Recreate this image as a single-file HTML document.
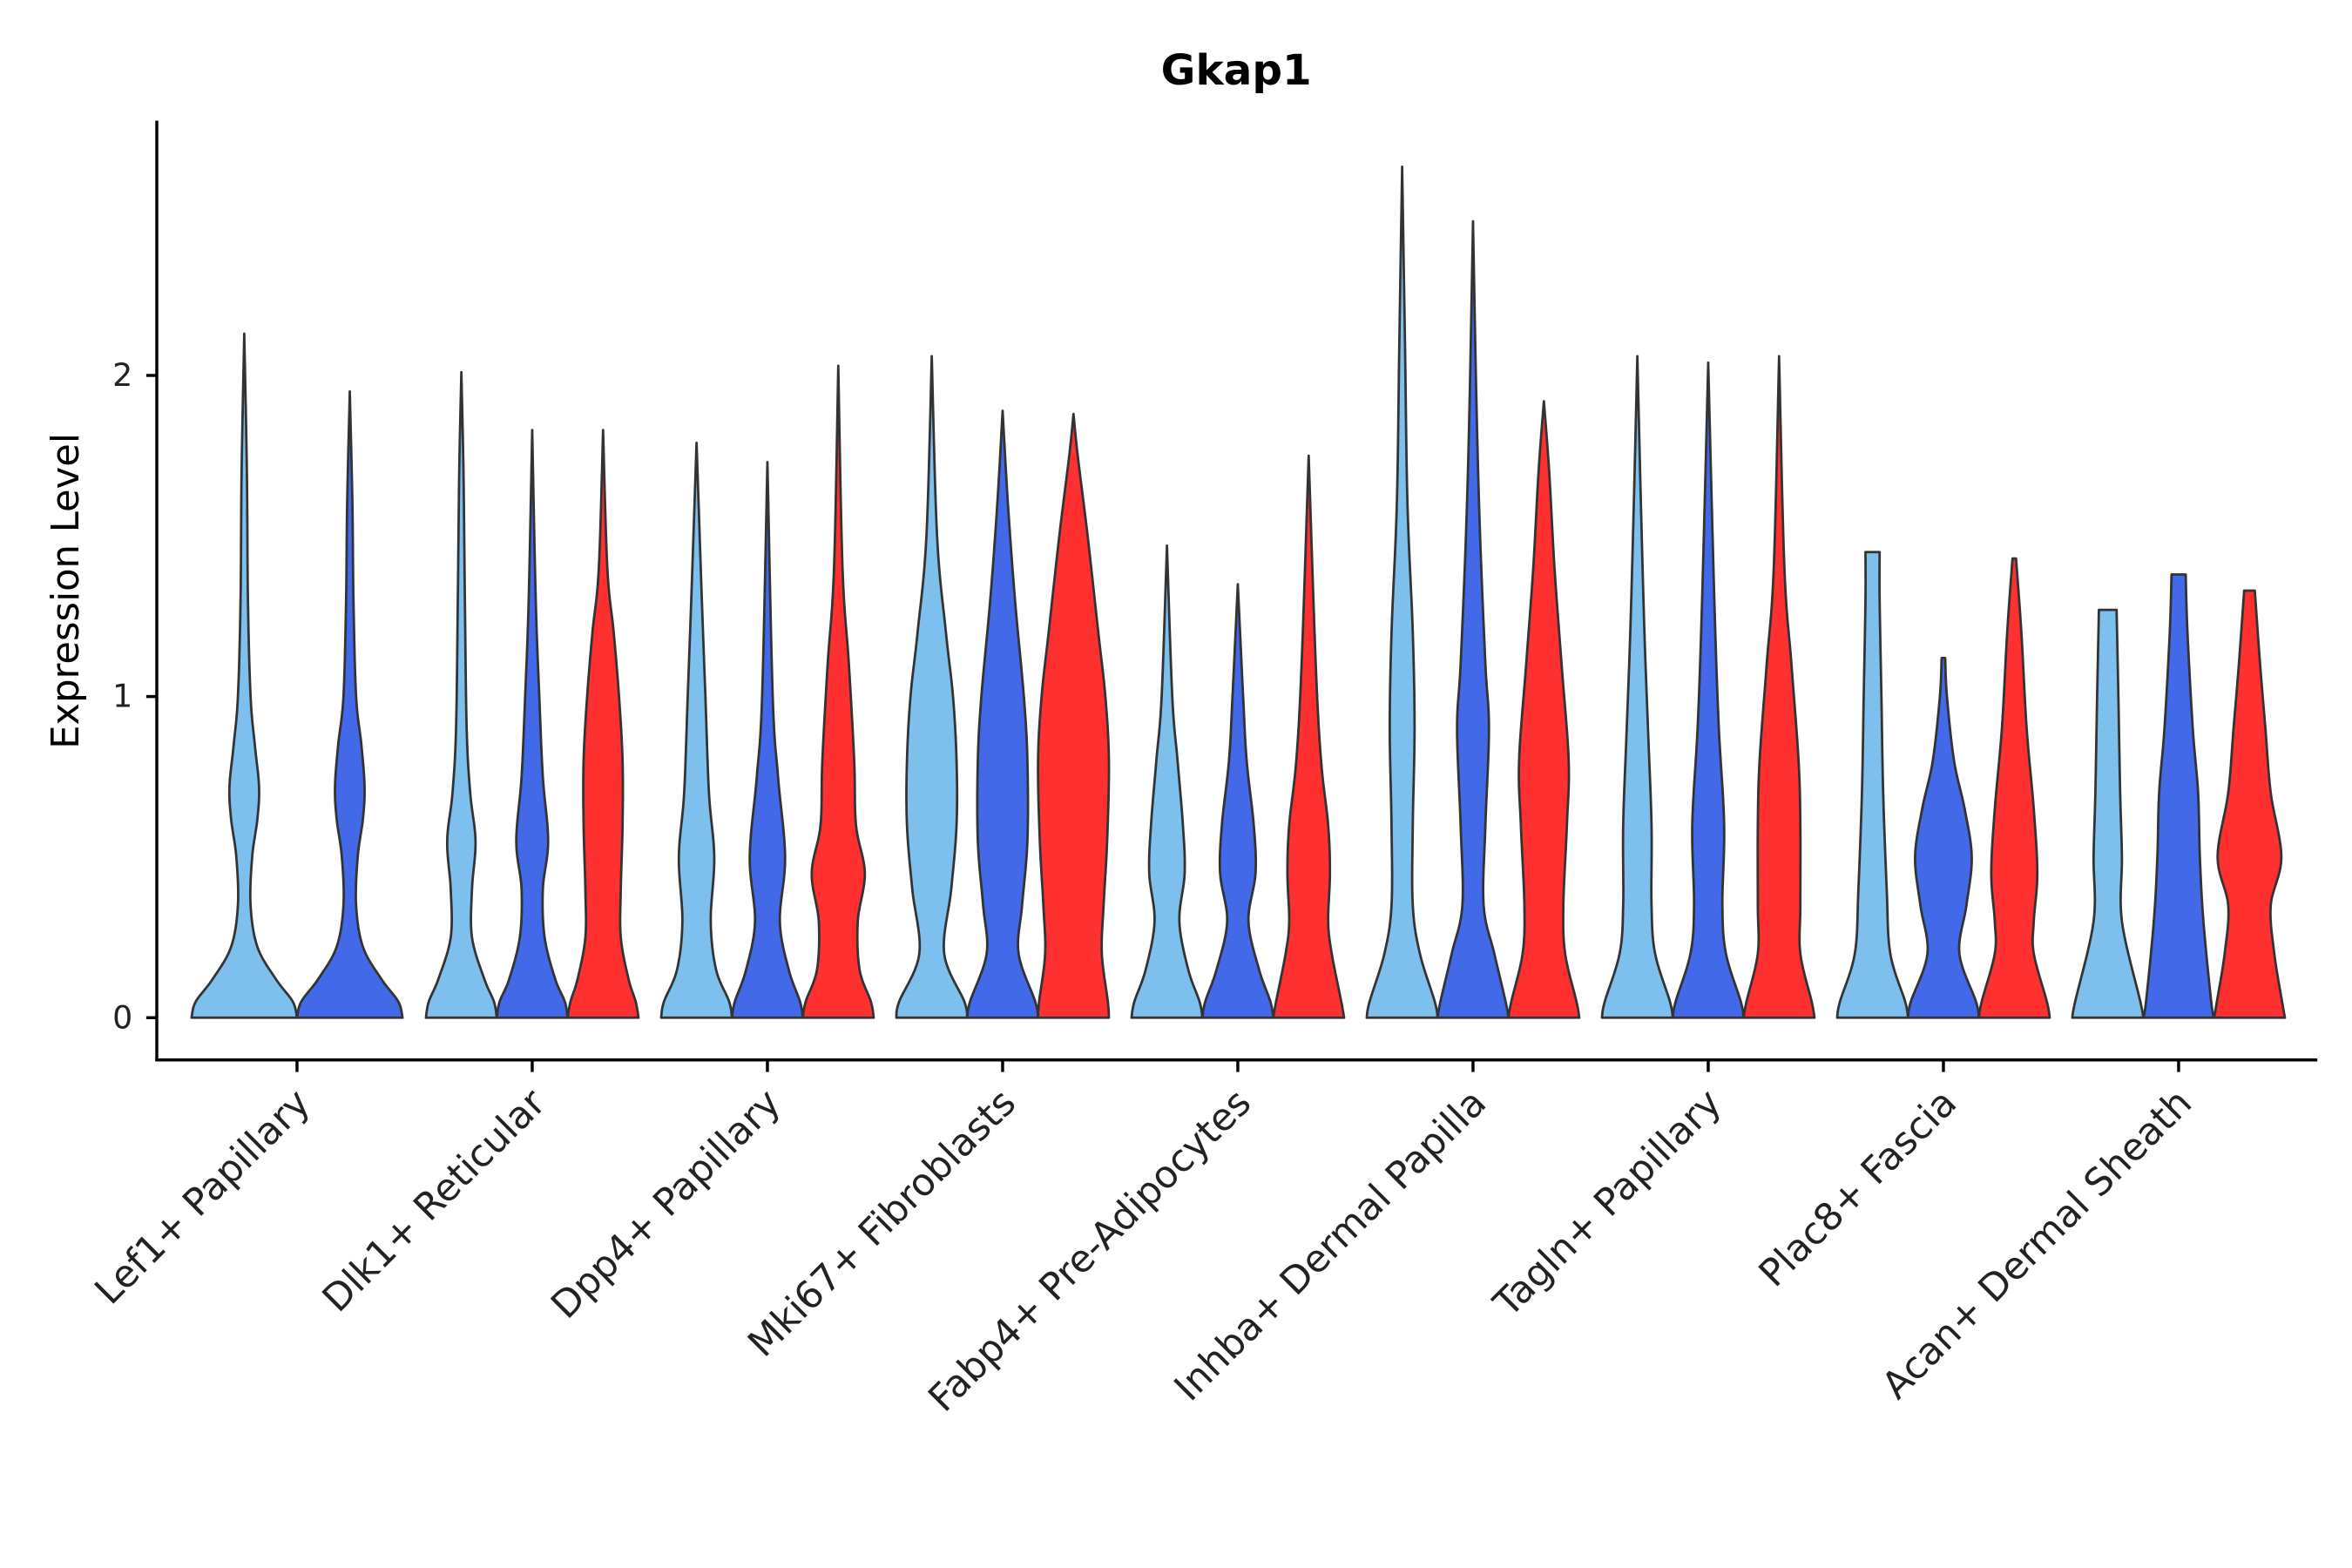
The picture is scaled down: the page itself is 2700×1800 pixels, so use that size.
<!DOCTYPE html>
<html><head><meta charset="utf-8"><style>html,body{margin:0;padding:0;background:#fff}svg{display:block}</style></head>
<body>
<svg id="chart" width="2700" height="1800" viewBox="0 0 1560 1040" xmlns="http://www.w3.org/2000/svg" font-family="DejaVu Sans, Liberation Sans, sans-serif">
<rect width="1560" height="1040" fill="#fff"/>
<text x="820" y="56" text-anchor="middle" font-size="28" font-weight="bold">Gkap1</text>
<text transform="translate(52,392) rotate(-90)" text-anchor="middle" font-size="25">Expression Level</text>
<g id="marks"></g>
<line x1="104" y1="80" x2="104" y2="704" stroke="#000" stroke-width="2"/>
<line x1="103" y1="703" x2="1537" y2="703" stroke="#000" stroke-width="2"/>
<g id="axes"></g>
</svg>
<script>
const categories = ["Lef1+ Papillary","Dlk1+ Reticular","Dpp4+ Papillary","Mki67+ Fibroblasts","Fabp4+ Pre-Adipocytes","Inhba+ Dermal Papilla","Tagln+ Papillary","Plac8+ Fascia","Acan+ Dermal Sheath"];
const yTicks = [0,1,2];
const seriesNames = ["light","blue","red"];
const seriesColors = ["#7DC0EE","#4169E8","#FF3030"];
const lef1Light = [[0,1],[0.05,0.92],[0.12,0.6],[0.22,0.25],[0.35,0.12],[0.5,0.15],[0.62,0.25],[0.72,0.28],[0.85,0.2],[1.0,0.12],[1.3,0.07],[1.7,0.05],[2.13,0]];
const lef1Blue = [[0,1],[0.05,0.92],[0.12,0.6],[0.22,0.25],[0.35,0.12],[0.5,0.15],[0.62,0.25],[0.72,0.28],[0.85,0.22],[1.0,0.12],[1.3,0.07],[1.6,0.05],[1.95,0]];
const dlk1Light = [[0,1],[0.05,0.92],[0.12,0.65],[0.25,0.3],[0.4,0.3],[0.55,0.4],[0.7,0.25],[0.9,0.15],[1.3,0.1],[1.7,0.06],[2.01,0]];
const dlk1Blue = [[0,1],[0.05,0.92],[0.12,0.65],[0.25,0.35],[0.4,0.3],[0.55,0.45],[0.75,0.3],[1.0,0.2],[1.3,0.1],[1.83,0]];
const dlk1Red = [[0,1],[0.05,0.92],[0.12,0.72],[0.25,0.5],[0.4,0.5],[0.6,0.55],[0.8,0.55],[1.0,0.45],[1.2,0.3],[1.4,0.12],[1.83,0]];
const dpp4Light = [[0,1],[0.05,0.92],[0.15,0.55],[0.3,0.4],[0.5,0.5],[0.7,0.35],[1.0,0.25],[1.3,0.15],[1.79,0]];
const dpp4Blue = [[0,1],[0.05,0.92],[0.15,0.6],[0.3,0.35],[0.5,0.5],[0.75,0.3],[1.0,0.15],[1.73,0]];
const dpp4Red = [[0,1],[0.05,0.92],[0.15,0.6],[0.3,0.55],[0.45,0.75],[0.6,0.5],[0.8,0.45],[1.1,0.3],[1.4,0.12],[2.03,0]];
const mki67Light = [[0,1],[0.05,0.92],[0.2,0.35],[0.4,0.55],[0.6,0.7],[0.8,0.7],[1.0,0.6],[1.2,0.4],[1.5,0.15],[2.06,0]];
const mki67Blue = [[0,1],[0.05,0.92],[0.2,0.45],[0.35,0.55],[0.55,0.7],[0.8,0.7],[1.0,0.6],[1.3,0.35],[1.6,0.15],[1.89,0]];
const mki67Red = [[0,1],[0.05,0.97],[0.2,0.8],[0.35,0.85],[0.55,0.95],[0.8,1.0],[1.0,0.9],[1.2,0.7],[1.5,0.4],[1.75,0.12],[1.88,0]];
const fabp4Light = [[0,1],[0.05,0.92],[0.15,0.6],[0.3,0.35],[0.45,0.5],[0.6,0.45],[0.8,0.3],[1.0,0.15],[1.47,0]];
const fabp4Blue = [[0,1],[0.05,0.92],[0.15,0.6],[0.3,0.3],[0.45,0.5],[0.6,0.45],[0.8,0.25],[1.0,0.15],[1.35,0]];
const fabp4Red = [[0,1],[0.05,0.92],[0.2,0.65],[0.3,0.55],[0.45,0.6],[0.6,0.55],[0.8,0.35],[1.1,0.2],[1.75,0]];
const inhbaLight = [[0,1],[0.05,0.92],[0.2,0.5],[0.35,0.3],[0.6,0.3],[0.9,0.35],[1.2,0.3],[1.6,0.15],[2.1,0.08],[2.65,0]];
const inhbaBlue = [[0,1],[0.05,0.92],[0.2,0.6],[0.35,0.3],[0.6,0.35],[0.9,0.45],[1.1,0.35],[1.5,0.2],[1.9,0.1],[2.48,0]];
const inhbaRed = [[0,1],[0.05,0.92],[0.2,0.6],[0.35,0.55],[0.6,0.65],[0.8,0.7],[1.1,0.5],[1.4,0.3],[1.7,0.15],[1.92,0]];
const taglnLight = [[0,1],[0.05,0.92],[0.2,0.5],[0.35,0.4],[0.6,0.4],[0.9,0.3],[1.2,0.2],[1.6,0.1],[2.06,0]];
const taglnBlue = [[0,1],[0.05,0.92],[0.2,0.5],[0.35,0.4],[0.6,0.45],[0.9,0.3],[1.2,0.2],[1.6,0.1],[2.04,0]];
const taglnRed = [[0,1],[0.05,0.92],[0.2,0.6],[0.35,0.6],[0.6,0.6],[0.8,0.55],[1.1,0.35],[1.4,0.15],[2.06,0]];
const plac8Light = [[0,1],[0.05,0.92],[0.2,0.5],[0.4,0.4],[0.7,0.3],[1.0,0.25],[1.3,0.2],[1.45,0.2]];
const plac8Blue = [[0,1],[0.05,0.92],[0.2,0.45],[0.35,0.65],[0.5,0.8],[0.65,0.6],[0.8,0.3],[1.0,0.1],[1.12,0.05]];
const plac8Red = [[0,1],[0.05,0.92],[0.2,0.55],[0.3,0.55],[0.45,0.65],[0.65,0.55],[0.9,0.35],[1.2,0.2],[1.43,0.05]];
const acanLight = [[0,1],[0.05,0.92],[0.3,0.4],[0.5,0.4],[0.7,0.35],[1.0,0.3],[1.27,0.25]];
const acanBlue = [[0,1],[0.05,0.92],[0.3,0.7],[0.5,0.6],[0.7,0.55],[0.9,0.4],[1.2,0.25],[1.38,0.2]];
const acanRed = [[0,1],[0.05,0.92],[0.2,0.7],[0.35,0.6],[0.5,0.9],[0.7,0.6],[0.9,0.45],[1.1,0.3],[1.33,0.15]];
const violins = [
 [0,0,lef1Light],[0,1,lef1Blue],
 [1,0,dlk1Light],[1,1,dlk1Blue],[1,2,dlk1Red],
 [2,0,dpp4Light],[2,1,dpp4Blue],[2,2,dpp4Red],
 [3,0,mki67Light],[3,1,mki67Blue],[3,2,mki67Red],
 [4,0,fabp4Light],[4,1,fabp4Blue],[4,2,fabp4Red],
 [5,0,inhbaLight],[5,1,inhbaBlue],[5,2,inhbaRed],
 [6,0,taglnLight],[6,1,taglnBlue],[6,2,taglnRed],
 [7,0,plac8Light],[7,1,plac8Blue],[7,2,plac8Red],
 [8,0,acanLight],[8,1,acanBlue],[8,2,acanRed]
];

const NS="http://www.w3.org/2000/svg";
function yScale(v){return 675-213*v;}
function xCenter(i){return 197+156*i;}
function violinPos(ci,si,n){
  if(n===2){return {x:xCenter(ci)+(si===0?-35:35),w:35};}
  return {x:xCenter(ci)+(si-1)*47,w:23.5};
}
function smooth(pts){
  const out=[];
  for(let i=0;i<pts.length-1;i++){
    const p0=pts[Math.max(0,i-1)],p1=pts[i],p2=pts[i+1],p3=pts[Math.min(pts.length-1,i+2)];
    for(let t=0;t<1;t+=0.1){
      const t2=t*t,t3=t2*t;
      const f=(a,b,c,d)=>0.5*((2*b)+(-a+c)*t+(2*a-5*b+4*c-d)*t2+(-a+3*b-3*c+d)*t3);
      out.push([f(p0[0],p1[0],p2[0],p3[0]),Math.max(0,f(p0[1],p1[1],p2[1],p3[1]))]);
    }
  }
  out.push(pts[pts.length-1]);
  return out;
}
const marks=document.getElementById('marks');
violins.forEach(v=>{
  const [ci,si,prof]=v;
  const n=violins.filter(o=>o[0]===ci).length;
  const pos=violinPos(ci,si,n);
  const pts=smooth(prof);
  const right=pts.map(p=>[pos.x+p[1]*pos.w,yScale(p[0])]);
  const left=pts.slice().reverse().map(p=>[pos.x-p[1]*pos.w,yScale(p[0])]);
  const all=right.concat(left);
  const d="M"+all.map(p=>p[0].toFixed(2)+","+p[1].toFixed(2)).join("L")+"Z";
  const path=document.createElementNS(NS,'path');
  path.setAttribute('d',d);
  path.setAttribute('fill',seriesColors[si]);
  path.setAttribute('stroke','#333');
  path.setAttribute('stroke-width','1.6');
  path.setAttribute('stroke-linejoin','round');
  
  
  marks.appendChild(path);
});
const axes=document.getElementById('axes');
yTicks.forEach(t=>{
  const l=document.createElementNS(NS,'line');
  l.setAttribute('x1',97);l.setAttribute('x2',104);
  l.setAttribute('y1',yScale(t));l.setAttribute('y2',yScale(t));
  l.setAttribute('stroke','#000');l.setAttribute('stroke-width','2');
  
  
  axes.appendChild(l);
  const tx=document.createElementNS(NS,'text');
  tx.setAttribute('x',88);tx.setAttribute('y',yScale(t)+7);
  tx.setAttribute('text-anchor','end');tx.setAttribute('font-size','21');tx.setAttribute('fill','#222');
  tx.textContent=t;
  
  
  axes.appendChild(tx);
});
categories.forEach((c,i)=>{
  const x=xCenter(i);
  const l=document.createElementNS(NS,'line');
  l.setAttribute('x1',x);l.setAttribute('x2',x);l.setAttribute('y1',703);l.setAttribute('y2',711);
  l.setAttribute('stroke','#000');l.setAttribute('stroke-width','2');
  
  
  axes.appendChild(l);
  const tx=document.createElementNS(NS,'text');
  tx.setAttribute('transform','translate('+(x+10)+',733) rotate(-45)');
  tx.setAttribute('text-anchor','end');tx.setAttribute('font-size','25');tx.setAttribute('fill','#222');
  tx.textContent=c;
  
  
  axes.appendChild(tx);
});
</script>
</body></html>
